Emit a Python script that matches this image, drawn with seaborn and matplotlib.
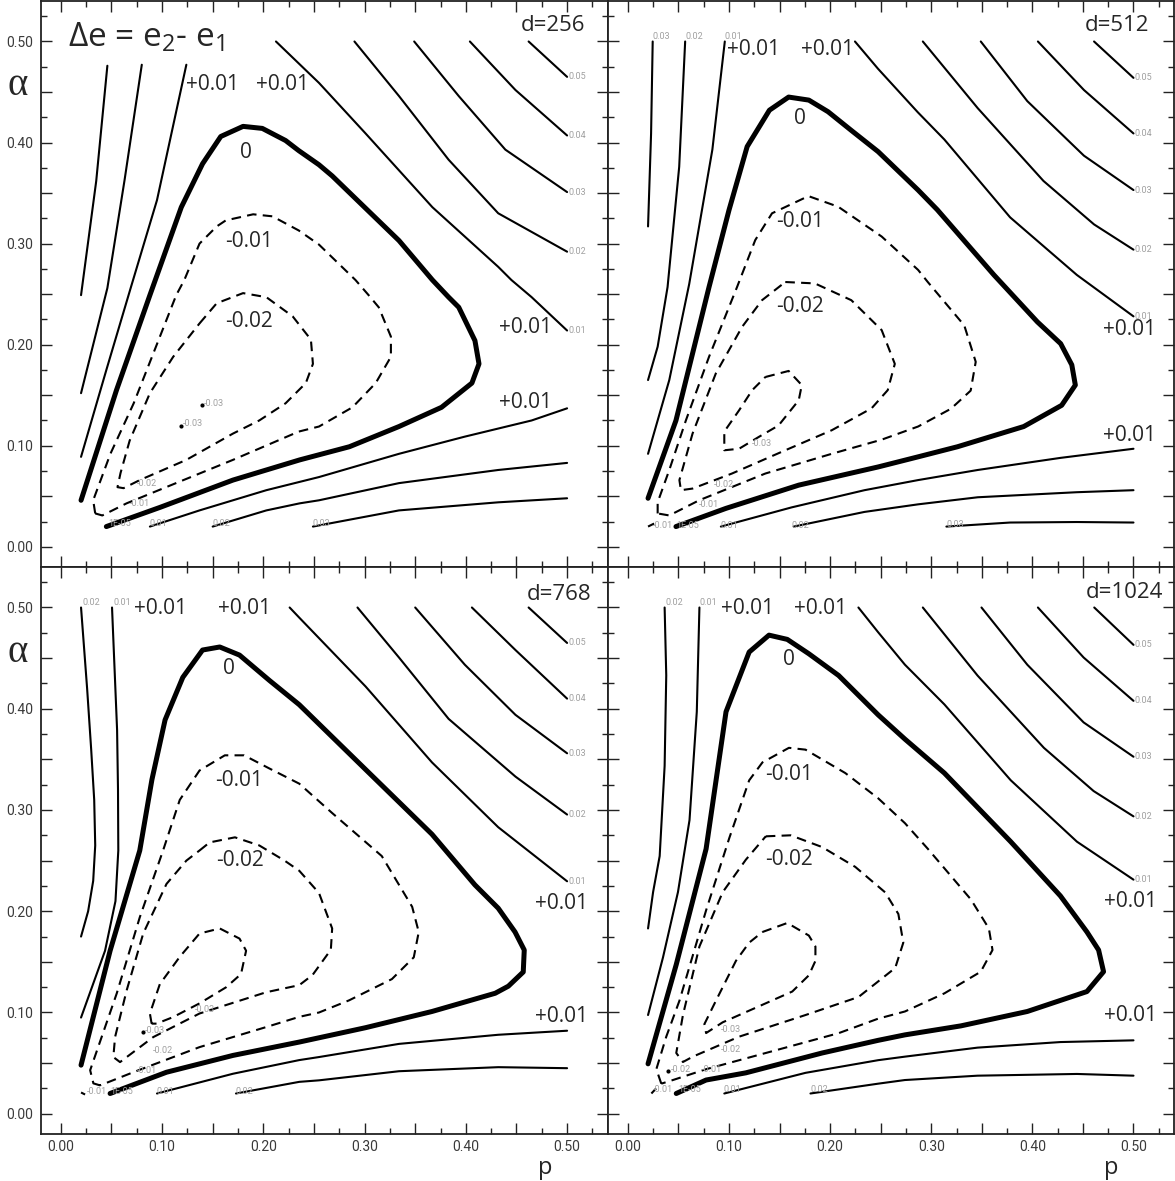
import pandas as pd
import numpy as np
import seaborn as sns
import matplotlib.pyplot as plt
from matplotlib.ticker import MultipleLocator, FuncFormatter

sns.set_theme(style='ticks')
plt.rcParams['font.family'] = ['Roboto', 'DejaVu Sans']
plt.rcParams['mathtext.fontset'] = 'custom'
plt.rcParams['mathtext.rm'] = 'Open Sans'
plt.rcParams['mathtext.it'] = 'Open Sans'

### data: (p, alpha) points along each contour

# d = 256
d256_pos = {
    'a03': [(0.020, 0.249), (0.035, 0.362), (0.046, 0.476)],
    'a02': [(0.020, 0.152), (0.034, 0.208), (0.046, 0.256), (0.063, 0.363), (0.080, 0.477)],
    'a01': [(0.020, 0.089), (0.045, 0.175), (0.069, 0.256), (0.095, 0.343), (0.124, 0.477)],
    'b01': [(0.2125, 0.50), (0.255, 0.459), (0.301, 0.409), (0.367, 0.336), (0.432, 0.277),
            (0.445, 0.264), (0.465, 0.247), (0.50, 0.214)],
    'b02': [(0.290, 0.50), (0.334, 0.446), (0.383, 0.383), (0.432, 0.330), (0.50, 0.292)],
    'b03': [(0.349, 0.50), (0.393, 0.446), (0.439, 0.393), (0.50, 0.351)],
    'b04': [(0.404, 0.50), (0.449, 0.452), (0.50, 0.407)],
    'b05': [(0.462, 0.50), (0.50, 0.465)],
    'c01': [(0.088, 0.020), (0.137, 0.036), (0.203, 0.056), (0.235, 0.064), (0.255, 0.069),
            (0.334, 0.092), (0.399, 0.109), (0.465, 0.125), (0.50, 0.137)],
    'c02': [(0.150, 0.020), (0.203, 0.036), (0.236, 0.043), (0.255, 0.046), (0.334, 0.063),
            (0.432, 0.076), (0.50, 0.083)],
    'c03': [(0.249, 0.020), (0.334, 0.036), (0.432, 0.044), (0.50, 0.048)],
}
d256_zero = [(0.020, 0.046), (0.055, 0.155), (0.088, 0.249), (0.119, 0.336), (0.140, 0.379),
             (0.158, 0.406), (0.180, 0.416), (0.199, 0.414), (0.222, 0.402), (0.235, 0.392),
             (0.255, 0.378), (0.268, 0.367), (0.334, 0.303), (0.367, 0.264), (0.383, 0.247),
             (0.393, 0.237), (0.409, 0.204), (0.413, 0.181), (0.406, 0.162), (0.376, 0.138),
             (0.334, 0.119), (0.285, 0.099), (0.236, 0.086), (0.170, 0.066), (0.098, 0.039),
             (0.045, 0.020)]
d256_neg = {
    'n01': [(0.034, 0.033), (0.032, 0.046), (0.049, 0.092), (0.072, 0.142), (0.114, 0.249),
            (0.122, 0.264), (0.137, 0.300), (0.154, 0.317), (0.163, 0.323), (0.190, 0.329),
            (0.209, 0.327), (0.235, 0.313), (0.255, 0.299), (0.291, 0.264), (0.304, 0.249),
            (0.314, 0.237), (0.326, 0.208), (0.326, 0.188), (0.311, 0.162), (0.288, 0.138),
            (0.255, 0.119), (0.235, 0.114), (0.170, 0.086), (0.104, 0.059), (0.065, 0.043),
            (0.041, 0.031), (0.034, 0.033)],
    'n02': [(0.137, 0.221), (0.154, 0.241), (0.180, 0.251), (0.203, 0.247), (0.229, 0.228),
            (0.247, 0.205), (0.249, 0.181), (0.242, 0.162), (0.222, 0.142), (0.196, 0.125),
            (0.170, 0.112), (0.124, 0.086), (0.078, 0.066), (0.062, 0.058), (0.056, 0.059),
            (0.059, 0.073), (0.068, 0.105), (0.088, 0.152), (0.111, 0.188), (0.137, 0.221)],
}
d256_dots = [(0.139, 0.140), (0.119, 0.120)]
d256_big = [('+0.01', 0.150, 0.457), ('+0.01', 0.219, 0.457), ('0', 0.183, 0.390),
            ('-0.01', 0.186, 0.302), ('-0.02', 0.186, 0.223),
            ('+0.01', 0.459, 0.217), ('+0.01', 0.459, 0.143)]
d256_small = [('0.05', 0.501, 0.465), ('0.04', 0.501, 0.407), ('0.03', 0.501, 0.351),
              ('0.02', 0.501, 0.292), ('0.01', 0.501, 0.214),
              ('1E-05', 0.047, 0.023), ('0.01', 0.088, 0.023), ('0.02', 0.150, 0.023),
              ('0.03', 0.249, 0.023), ('-0.01', 0.068, 0.043), ('-0.02', 0.075, 0.063),
              ('-0.03', 0.141, 0.142), ('-0.03', 0.121, 0.122)]

# d = 512
d512_pos = {
    'a03': [(0.020, 0.317), (0.023, 0.409), (0.0246, 0.50)],
    'a02': [(0.020, 0.165), (0.0295, 0.198), (0.0393, 0.257), (0.0508, 0.376), (0.0567, 0.50)],
    'a01': [(0.020, 0.092), (0.041, 0.165), (0.0607, 0.260), (0.0836, 0.393), (0.0959, 0.50)],
    'b01': [(0.2246, 0.50), (0.2474, 0.473), (0.2867, 0.430), (0.313, 0.403), (0.378, 0.326),
            (0.444, 0.269), (0.50, 0.228)],
    'b02': [(0.2917, 0.50), (0.346, 0.434), (0.411, 0.362), (0.461, 0.319), (0.50, 0.294)],
    'b03': [(0.349, 0.50), (0.395, 0.441), (0.451, 0.387), (0.50, 0.353)],
    'b04': [(0.4055, 0.50), (0.451, 0.452), (0.50, 0.409)],
    'b05': [(0.461, 0.50), (0.50, 0.464)],
    'c01': [(0.092, 0.020), (0.162, 0.039), (0.234, 0.056), (0.287, 0.066), (0.346, 0.076),
            (0.428, 0.088), (0.50, 0.097)],
    'c02': [(0.164, 0.020), (0.234, 0.0345), (0.287, 0.042), (0.346, 0.049), (0.444, 0.054),
            (0.50, 0.056)],
    'c03': [(0.315, 0.020), (0.378, 0.024), (0.444, 0.0245), (0.50, 0.024)],
}
d512_zero = [(0.020, 0.048), (0.0476, 0.125), (0.0803, 0.257), (0.100, 0.333), (0.118, 0.396),
             (0.140, 0.432), (0.159, 0.445), (0.179, 0.442), (0.198, 0.4305), (0.221, 0.412),
             (0.2475, 0.391), (0.287, 0.353), (0.306, 0.3335), (0.362, 0.269), (0.405, 0.2225),
             (0.428, 0.201), (0.439, 0.180), (0.4425, 0.160), (0.429, 0.140), (0.3915, 0.119),
             (0.326, 0.099), (0.287, 0.089), (0.2475, 0.079), (0.169, 0.061), (0.097, 0.038),
             (0.0476, 0.020)]
d512_neg = {
    'n01': [(0.0295, 0.033), (0.0295, 0.044), (0.041, 0.076), (0.0574, 0.125), (0.0803, 0.188),
            (0.108, 0.257), (0.126, 0.3035), (0.1426, 0.330), (0.1786, 0.347), (0.208, 0.3365),
            (0.251, 0.307), (0.287, 0.274), (0.2966, 0.262), (0.3327, 0.219), (0.344, 0.183),
            (0.339, 0.1545), (0.3195, 0.1366), (0.287, 0.119), (0.251, 0.106), (0.2016, 0.092),
            (0.136, 0.0725), (0.0705, 0.046), (0.041, 0.031), (0.0295, 0.033)],
    'n02': [(0.1557, 0.262), (0.185, 0.2606), (0.221, 0.244), (0.251, 0.2144), (0.264, 0.181),
            (0.257, 0.155), (0.241, 0.137), (0.2016, 0.1153), (0.1557, 0.0955), (0.103, 0.0725),
            (0.064, 0.0576), (0.0525, 0.056), (0.051, 0.066), (0.064, 0.112), (0.087, 0.1715),
            (0.113, 0.2176), (0.1327, 0.244), (0.1557, 0.262)],
    'n03': [(0.136, 0.168), (0.159, 0.174), (0.172, 0.160), (0.169, 0.145), (0.149, 0.120),
            (0.130, 0.109), (0.110, 0.097), (0.0954, 0.0955), (0.0954, 0.114), (0.110, 0.135),
            (0.123, 0.155), (0.136, 0.168)],
    'n04': [(0.020, 0.020), (0.026, 0.023)],
}
d512_dots = []
d512_big = [('+0.01', 0.1245, 0.4916), ('+0.01', 0.197, 0.4916), ('0', 0.1705, 0.424),
            ('-0.01', 0.1705, 0.3216), ('-0.02', 0.1705, 0.2374),
            ('+0.01', 0.4963, 0.2153), ('+0.01', 0.4963, 0.1098)]
d512_small = [('0.05', 0.501, 0.464), ('0.04', 0.501, 0.409), ('0.03', 0.501, 0.353),
              ('0.02', 0.501, 0.294), ('0.01', 0.501, 0.228),
              ('0.03', 0.0246, 0.505), ('0.02', 0.0567, 0.505), ('0.01', 0.0959, 0.505),
              ('-0.01', 0.0246, 0.021), ('1E-05', 0.048, 0.021), ('0.01', 0.092, 0.021),
              ('0.02', 0.162, 0.021), ('0.03', 0.315, 0.022),
              ('-0.01', 0.070, 0.042), ('-0.02', 0.085, 0.062), ('-0.03', 0.123, 0.102)]

# d = 768
d768_pos = {
    'a02': [(0.020, 0.175), (0.027, 0.200), (0.032, 0.230), (0.034, 0.265), (0.033, 0.310),
            (0.030, 0.360), (0.026, 0.420), (0.020, 0.50)],
    'a01': [(0.020, 0.095), (0.0437, 0.161), (0.054, 0.210), (0.0568, 0.260), (0.0565, 0.320),
            (0.0556, 0.379), (0.0506, 0.50)],
    'b01': [(0.226, 0.50), (0.2355, 0.490), (0.301, 0.422), (0.3666, 0.347), (0.432, 0.283),
            (0.50, 0.2296)],
    'b02': [(0.293, 0.50), (0.334, 0.4506), (0.383, 0.390), (0.449, 0.333), (0.50, 0.2955)],
    'b03': [(0.350, 0.50), (0.399, 0.4435), (0.449, 0.394), (0.50, 0.356)],
    'b04': [(0.406, 0.50), (0.449, 0.458), (0.50, 0.410)],
    'b05': [(0.462, 0.50), (0.50, 0.465)],
    'c01': [(0.095, 0.020), (0.170, 0.0395), (0.2355, 0.053), (0.255, 0.056), (0.334, 0.069),
            (0.432, 0.078), (0.50, 0.082)],
    'c02': [(0.173, 0.020), (0.2355, 0.0315), (0.255, 0.033), (0.334, 0.042), (0.432, 0.046),
            (0.50, 0.045)],
}
d768_zero = [(0.020, 0.048), (0.0487, 0.161), (0.078, 0.260), (0.090, 0.330), (0.103, 0.389),
             (0.1205, 0.431), (0.140, 0.458), (0.157, 0.461), (0.1765, 0.453), (0.206, 0.428),
             (0.2355, 0.404), (0.301, 0.340), (0.3666, 0.276), (0.409, 0.226), (0.432, 0.203),
             (0.4486, 0.1795), (0.4577, 0.1617), (0.4567, 0.140), (0.442, 0.126), (0.429, 0.119),
             (0.3666, 0.101), (0.301, 0.085), (0.2355, 0.0708), (0.170, 0.0576), (0.1044, 0.041),
             (0.0487, 0.020)]
d768_neg = {
    'n01': [(0.0388, 0.028), (0.0322, 0.030), (0.029, 0.043), (0.0553, 0.119), (0.078, 0.194),
            (0.101, 0.260), (0.1175, 0.310), (0.137, 0.339), (0.162, 0.354), (0.181, 0.354),
            (0.206, 0.341), (0.2355, 0.326), (0.268, 0.297), (0.317, 0.2545), (0.347, 0.2044),
            (0.3535, 0.1795), (0.3486, 0.1545), (0.327, 0.133), (0.2847, 0.112), (0.255, 0.100),
            (0.2355, 0.0957), (0.2028, 0.0856), (0.137, 0.0658), (0.0716, 0.041), (0.0388, 0.028)],
    'n02': [(0.137, 0.260), (0.147, 0.268), (0.172, 0.273), (0.196, 0.265), (0.221, 0.250),
            (0.2355, 0.240), (0.255, 0.218), (0.268, 0.183), (0.2667, 0.162), (0.2486, 0.137),
            (0.2355, 0.127), (0.2028, 0.120), (0.137, 0.099), (0.0913, 0.0757), (0.0585, 0.051),
            (0.0519, 0.056), (0.0536, 0.0757), (0.0651, 0.122), (0.0814, 0.178), (0.1044, 0.227),
            (0.124, 0.250), (0.137, 0.260)],
    'n03': [(0.0897, 0.089), (0.088, 0.099), (0.0978, 0.128), (0.1175, 0.155), (0.137, 0.178),
            (0.157, 0.183), (0.1765, 0.173), (0.183, 0.161), (0.178, 0.138), (0.1634, 0.125),
            (0.137, 0.109), (0.111, 0.0955), (0.0946, 0.089), (0.0897, 0.089)],
    'n04': [(0.020, 0.021), (0.024, 0.019)],
}
d768_dots = [(0.0814, 0.0806)]
d768_big = [('+0.01', 0.098, 0.4995), ('+0.01', 0.1814, 0.4995), ('0', 0.1657, 0.440),
            ('-0.01', 0.1765, 0.329), ('-0.02', 0.1765, 0.250),
            ('+0.01', 0.4944, 0.208), ('+0.01', 0.4944, 0.0957)]
d768_small = [('0.05', 0.501, 0.465), ('0.04', 0.501, 0.410), ('0.03', 0.501, 0.356),
              ('0.02', 0.501, 0.2955), ('0.01', 0.501, 0.2296),
              ('0.02', 0.021, 0.505), ('0.01', 0.052, 0.505),
              ('-0.01', 0.026, 0.022), ('1E-05', 0.049, 0.022), ('0.01', 0.095, 0.022),
              ('0.02', 0.173, 0.022), ('-0.01', 0.075, 0.043), ('-0.02', 0.091, 0.0625),
              ('-0.03', 0.083, 0.082), ('-0.03', 0.132, 0.103)]

# d = 1024
d1024_pos = {
    'a02': [(0.020, 0.183), (0.025, 0.219), (0.0315, 0.2545), (0.0364, 0.3436), (0.038, 0.433),
            (0.0364, 0.50)],
    'a01': [(0.020, 0.0975), (0.0348, 0.1545), (0.0496, 0.219), (0.061, 0.290), (0.0682, 0.397),
            (0.0708, 0.50)],
    'b01': [(0.228, 0.50), (0.2475, 0.4756), (0.274, 0.4435), (0.313, 0.4043), (0.3786, 0.3294),
            (0.4441, 0.2687), (0.50, 0.2312)],
    'b02': [(0.2917, 0.50), (0.3458, 0.4328), (0.4114, 0.3614), (0.4606, 0.3187), (0.50, 0.2937)],
    'b03': [(0.3497, 0.50), (0.395, 0.4435), (0.4507, 0.3865), (0.50, 0.3526)],
    'b04': [(0.4055, 0.50), (0.4507, 0.4506), (0.50, 0.4078)],
    'b05': [(0.4612, 0.50), (0.50, 0.4631)],
    'c01': [(0.0954, 0.020), (0.1757, 0.0404), (0.2475, 0.0529), (0.274, 0.0564), (0.3458, 0.0653),
            (0.4277, 0.0708), (0.50, 0.0725)],
    'c02': [(0.1806, 0.020), (0.2475, 0.0297), (0.274, 0.0333), (0.3458, 0.0376), (0.4441, 0.0393),
            (0.50, 0.0376)],
}
d1024_zero = [(0.020, 0.0493), (0.0479, 0.1474), (0.0774, 0.2616), (0.0971, 0.397), (0.120, 0.456),
              (0.1396, 0.4727), (0.1577, 0.4685), (0.179, 0.4543), (0.2085, 0.4328), (0.2475, 0.394),
              (0.274, 0.370), (0.313, 0.3365), (0.3786, 0.2687), (0.4277, 0.2152), (0.454, 0.1795),
              (0.4655, 0.1617), (0.4704, 0.1403), (0.454, 0.1207), (0.395, 0.101), (0.3294, 0.0868),
              (0.274, 0.0779), (0.2475, 0.0725), (0.1921, 0.060), (0.1167, 0.0404), (0.0774, 0.0333),
              (0.0479, 0.020)]
d1024_neg = {
    'n01': [(0.0331, 0.0297), (0.0282, 0.044), (0.038, 0.0761), (0.0511, 0.1118), (0.0774, 0.2009),
            (0.1003, 0.2722), (0.120, 0.3293), (0.1331, 0.347), (0.1593, 0.3614), (0.1757, 0.3596),
            (0.215, 0.3365), (0.2475, 0.3116), (0.274, 0.287), (0.2967, 0.2616), (0.3392, 0.2117),
            (0.357, 0.183), (0.3606, 0.1617), (0.349, 0.1403), (0.313, 0.1189), (0.274, 0.101),
            (0.2475, 0.0939), (0.2085, 0.0796), (0.143, 0.0618), (0.0774, 0.044), (0.0446, 0.0333),
            (0.0331, 0.0297)],
    'n02': [(0.1364, 0.274), (0.161, 0.275), (0.1921, 0.2634), (0.2249, 0.2438), (0.2544, 0.2187),
            (0.2675, 0.1973), (0.2724, 0.169), (0.2644, 0.144), (0.2281, 0.1153), (0.1757, 0.0975),
            (0.110, 0.0761), (0.0643, 0.0564), (0.0545, 0.0511), (0.0479, 0.060), (0.0545, 0.0975),
            (0.0708, 0.1652), (0.0938, 0.2188), (0.1167, 0.2509), (0.1364, 0.274)],
    'n03': [(0.1331, 0.1795), (0.1577, 0.1884), (0.179, 0.176), (0.1855, 0.1652), (0.1855, 0.151),
            (0.179, 0.1367), (0.1626, 0.1207), (0.1265, 0.1047), (0.0938, 0.0903), (0.0774, 0.0797),
            (0.0757, 0.0885), (0.0872, 0.1118), (0.1069, 0.151), (0.120, 0.169), (0.1331, 0.1795)],
    'n04': [(0.0233, 0.020), (0.028, 0.025)],
}
d1024_dots = [(0.0397, 0.042)]
d1024_big = [('+0.01', 0.1184, 0.4988), ('+0.01', 0.1905, 0.4988), ('0', 0.1593, 0.449),
             ('-0.01', 0.1593, 0.3347), ('-0.02', 0.1593, 0.2509),
             ('+0.01', 0.4966, 0.2098), ('+0.01', 0.4966, 0.0975)]
d1024_small = [('0.05', 0.501, 0.4631), ('0.04', 0.501, 0.4078), ('0.03', 0.501, 0.3526),
               ('0.02', 0.501, 0.2937), ('0.01', 0.501, 0.2312),
               ('0.02', 0.037, 0.505), ('0.01', 0.071, 0.505),
               ('-0.01', 0.025, 0.024), ('1E-05', 0.0495, 0.024), ('0.01', 0.095, 0.024),
               ('0.02', 0.1806, 0.024), ('-0.02', 0.043, 0.044), ('-0.01', 0.073, 0.044),
               ('-0.02', 0.092, 0.0635), ('-0.03', 0.092, 0.083)]

d_values = [256, 512, 768, 1024]
d_label_pos = [(0.5175, 0.516), (0.516, 0.516), (0.5236, 0.513), (0.529, 0.515)]


def to_df(curves):
    rows = []
    for name, pts in curves.items():
        for i, (p, a) in enumerate(pts):
            rows.append((name, i, p, a))
    return pd.DataFrame(rows, columns=['curve', 'order', 'p', 'a'])


panels = [
    (d256_pos, d256_zero, d256_neg, d256_dots, d256_big, d256_small),
    (d512_pos, d512_zero, d512_neg, d512_dots, d512_big, d512_small),
    (d768_pos, d768_zero, d768_neg, d768_dots, d768_big, d768_small),
    (d1024_pos, d1024_zero, d1024_neg, d1024_dots, d1024_big, d1024_small),
]

# axes boxes in figure fractions (2 x 2, no gaps)
boxes = [(0.0345, 0.5199, 0.4826, 0.4792),
         (0.5171, 0.5199, 0.4820, 0.4792),
         (0.0345, 0.0398, 0.4826, 0.4801),
         (0.5171, 0.0398, 0.4820, 0.4801)]

fig = plt.figure(figsize=(11.75, 11.81), dpi=100)
big_font = ['Open Sans', 'DejaVu Sans']
fmt = FuncFormatter(lambda v, pos: f'{v:.2f}' if abs(round(v * 100)) % 10 == 0 else '')

for k, (pos, zero, neg, dots, big, small) in enumerate(panels):
    ax = fig.add_axes(boxes[k])
    sns.lineplot(data=to_df(pos), x='p', y='a', units='curve', estimator=None, sort=False,
                 color='black', lw=1.5, legend=False, ax=ax)
    sns.lineplot(data=to_df({'z': zero}), x='p', y='a', units='curve', estimator=None, sort=False,
                 color='black', lw=3.6, legend=False, ax=ax)
    sns.lineplot(data=to_df(neg), x='p', y='a', units='curve', estimator=None, sort=False,
                 color='black', lw=1.5, linestyle=(0, (4.6, 3)), legend=False, ax=ax)
    if dots:
        dd = pd.DataFrame(dots, columns=['p', 'a'])
        sns.scatterplot(data=dd, x='p', y='a', color='black', s=9, linewidth=0, ax=ax)

    for t, p, a in big:
        ax.text(p, a, t, ha='center', va='center', fontsize=15, family=big_font)
    for t, p, a in small:
        ax.text(p, a, t, ha='left', va='center', fontsize=6.5, color='#a0a0a0')
    dx, dy = d_label_pos[k]
    ax.text(dx, dy, f'd={d_values[k]}', ha='right', va='center', fontsize=16, family=big_font)

    ax.set_xlim(-0.02, 0.54)
    ax.set_ylim(-0.02, 0.54)
    ax.set_xlabel('')
    ax.set_ylabel('')
    for axis in (ax.xaxis, ax.yaxis):
        axis.set_major_locator(MultipleLocator(0.05))
        axis.set_minor_locator(MultipleLocator(0.025))
        axis.set_major_formatter(fmt)
    ax.tick_params(which='both', direction='in', top=True, right=True, color='#222222',
                   width=1.0, labelsize=10, labelcolor='#3a3a3a')
    ax.tick_params(which='major', length=8)
    ax.tick_params(which='minor', length=4)
    ax.tick_params(axis='y', pad=5)
    ax.tick_params(axis='x', pad=4)
    ax.tick_params(labelleft=(k % 2 == 0), labelbottom=(k >= 2))
    for s in ax.spines.values():
        s.set_linewidth(1.3)
        s.set_color('#222222')

    if k % 2 == 0:
        ax.text(-0.04, 0.85, 'α', transform=ax.transAxes, ha='center', va='center',
                fontsize=28, family=['Liberation Serif', 'DejaVu Serif'])
    if k >= 2:
        ax.text(0.89, -0.06, 'p', transform=ax.transAxes, ha='center', va='center',
                fontsize=17, family=big_font)
    if k == 0:
        ax.text(0.0074, 0.495, r'Δe = e$_2$- e$_1$', ha='left', va='baseline',
                fontsize=24, family=big_font)

fig.savefig('out.png', dpi=100)
